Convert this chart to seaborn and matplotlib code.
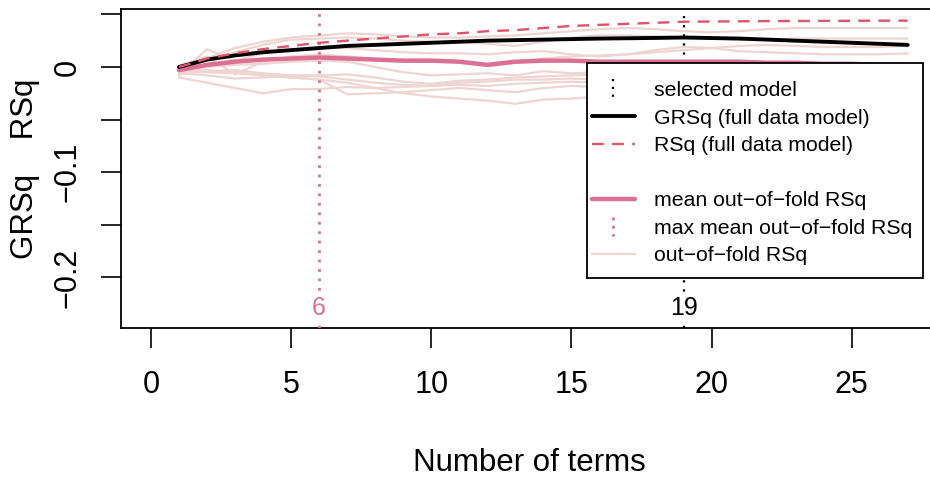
import numpy as np
import pandas as pd
import matplotlib
matplotlib.use("Agg")
import matplotlib.pyplot as plt
import seaborn as sns
from matplotlib.lines import Line2D
from matplotlib.patches import Rectangle
from matplotlib.legend_handler import HandlerBase

# ---------------- data ----------------
terms = list(range(1, 28))

grsq_full = [0.000, 0.007, 0.011, 0.014, 0.016, 0.018, 0.020, 0.021, 0.022, 0.023,
             0.024, 0.025, 0.0255, 0.026, 0.0265, 0.027, 0.0273, 0.0276, 0.028, 0.0275,
             0.027, 0.026, 0.025, 0.024, 0.023, 0.022, 0.021]
rsq_full = [0.000, 0.008, 0.013, 0.017, 0.020, 0.023, 0.025, 0.027, 0.029, 0.031,
            0.032, 0.034, 0.035, 0.037, 0.039, 0.040, 0.041, 0.042, 0.043, 0.0432,
            0.0434, 0.0436, 0.0437, 0.0438, 0.0439, 0.044, 0.044]
mean_oof_rsq = [-0.003, 0.002, 0.005, 0.007, 0.008, 0.009, 0.008, 0.007, 0.006, 0.006,
                0.005, 0.002, 0.005, 0.006, 0.006, 0.005, 0.005, 0.005, 0.005, 0.005,
                0.005, 0.004, 0.004, 0.003, 0.003, 0.002, 0.002]

fold1 = [-0.004, 0.008, 0.018, 0.024, 0.028, 0.030, 0.032, 0.031, 0.029, 0.028, 0.028, 0.029, 0.030, 0.032,
         0.034, 0.036, 0.037, 0.036, 0.034, 0.033, 0.034, 0.036, 0.037, 0.037, 0.037, 0.037, 0.037]
fold2 = [-0.002, 0.006, 0.014, 0.021, 0.026, 0.027, 0.028, 0.027, 0.025, 0.024, 0.024, 0.022, 0.020, 0.024,
         0.028, 0.030, 0.030, 0.029, 0.028, 0.027, 0.026, 0.026, 0.027, 0.027, 0.027, 0.027, 0.027]
fold3 = [-0.008, 0.017, 0.006, 0.013, 0.016, 0.018, 0.018, 0.016, 0.014, 0.013, 0.013, 0.012, 0.014, 0.015,
         0.012, 0.010, 0.012, 0.016, 0.019, 0.018, 0.015, 0.014, 0.013, 0.012, 0.012, 0.012, 0.013]
fold4 = [0.001, 0.010, -0.007, 0.005, 0.010, 0.012, 0.010, 0.008, 0.006, 0.005, 0.005, 0.001, 0.004, 0.008,
         0.010, 0.011, 0.012, 0.014, 0.016, 0.018, 0.020, 0.021, 0.020, 0.019, 0.019, 0.019, 0.020]
fold5 = [-0.003, 0.000, 0.002, 0.003, 0.005, 0.006, 0.005, 0.000, -0.005, -0.008, -0.007, -0.006, -0.008, -0.004,
         -0.006, -0.005, -0.004, -0.005, -0.006, -0.006, -0.005, -0.005, -0.006, -0.006, -0.006, -0.006, -0.006]
fold6 = [-0.006, -0.008, -0.011, -0.010, -0.008, -0.008, -0.007, -0.010, -0.014, -0.016, -0.013, -0.012, -0.010, -0.009,
         -0.008, -0.007, -0.008, -0.009, -0.010, -0.010, -0.011, -0.011, -0.012, -0.012, -0.012, -0.012, -0.012]
fold7 = [-0.010, -0.015, -0.020, -0.025, -0.021, -0.021, -0.019, -0.020, -0.019, -0.018, -0.017, -0.018, -0.016, -0.015,
         -0.014, -0.015, -0.016, -0.016, -0.017, -0.017, -0.018, -0.018, -0.018, -0.018, -0.018, -0.018, -0.018]
fold8 = [-0.004, -0.005, -0.006, -0.008, -0.010, -0.012, -0.026, -0.025, -0.024, -0.022, -0.020, -0.022, -0.024, -0.020,
         -0.018, -0.019, -0.020, -0.021, -0.021, -0.022, -0.022, -0.022, -0.023, -0.023, -0.023, -0.023, -0.023]
fold9 = [-0.002, -0.003, -0.005, -0.008, -0.010, -0.012, -0.015, -0.020, -0.025, -0.028, -0.030, -0.032, -0.035, -0.031,
         -0.030, -0.028, -0.029, -0.030, -0.030, -0.031, -0.031, -0.031, -0.032, -0.032, -0.032, -0.032, -0.032]
fold10 = [-0.007, -0.004, -0.003, -0.006, -0.008, -0.009, -0.012, -0.015, -0.017, -0.018, -0.015, -0.014, -0.012, -0.012,
          -0.011, -0.012, -0.013, -0.013, -0.014, -0.014, -0.014, -0.015, -0.015, -0.015, -0.015, -0.015, -0.015]
folds = [fold1, fold2, fold3, fold4, fold5, fold6, fold7, fold8, fold9, fold10]

selected_terms = 19
max_mean_oof_terms = 6

x_ticks = [0, 5, 10, 15, 20, 25]
x_ticklabels = ["0", "5", "10", "15", "20", "25"]
y_ticks = [0.05, 0.0, -0.05, -0.10, -0.15, -0.20]
y_ticklabels = ["", "0", "", "\u22120.1", "", "\u22120.2"]

legend_labels = ["selected model", "GRSq (full data model)", "RSq (full data model)", " ",
                 "mean out\u2212of\u2212fold RSq", "max mean out\u2212of\u2212fold RSq", "out\u2212of\u2212fold RSq"]

# ---------------- styling ----------------
C_BLACK = "black"
C_RSQ = "#DF536B"
C_MEAN = "#DB7093"   # palevioletred
C_FOLD = "#EED5D2"   # mistyrose2

sns.set_theme(style="white")
plt.rcParams["font.family"] = ["Liberation Sans", "DejaVu Sans"]

fig = plt.figure(figsize=(9.3, 4.79), dpi=100)
ax = fig.add_axes([120.7 / 930, 1 - 328 / 479, (938 - 120.7) / 930, (328 - 9) / 479])

fold_df = pd.DataFrame({
    "terms": np.tile(terms, len(folds)),
    "rsq": np.concatenate(folds),
    "fold": np.repeat(np.arange(len(folds)), len(terms)),
})
sns.lineplot(data=fold_df, x="terms", y="rsq", units="fold", estimator=None,
             color=C_FOLD, lw=1.6, ax=ax, legend=False)

ax.axvline(max_mean_oof_terms, color=C_MEAN, lw=2.0, ls=(0, (1, 2.4)), zorder=3)
ax.axvline(selected_terms, color=C_BLACK, lw=1.6, ls=(0, (1, 3.1)), zorder=3)

sns.lineplot(x=terms, y=mean_oof_rsq, color=C_MEAN, lw=3.2, ax=ax, zorder=4)
sns.lineplot(x=terms, y=grsq_full, color=C_BLACK, lw=2.8, ax=ax, zorder=5)
sns.lineplot(x=terms, y=rsq_full, color=C_RSQ, lw=1.7, ax=ax, zorder=5,
             dashes=False).lines[-1].set_dashes((5, 3.5))

ax.text(max_mean_oof_terms, -0.229, str(max_mean_oof_terms), color=C_MEAN, fontsize=18,
        ha="center", va="center", zorder=6,
        bbox=dict(fc="white", ec="none", pad=1.0))
ax.text(selected_terms, -0.229, str(selected_terms), color=C_BLACK, fontsize=18,
        ha="center", va="center", zorder=6,
        bbox=dict(fc="white", ec="none", pad=1.0))

ax.set_xlim(-1.08, 28.08)
ax.set_ylim(-0.2481, 0.0551)
ax.set_xticks(x_ticks)
ax.set_xticklabels(x_ticklabels)
ax.set_yticks(y_ticks)
ax.set_yticklabels(y_ticklabels)
ax.tick_params(axis="both", direction="out", length=14.4, width=1.2, color="black",
               labelsize=22, labelcolor="black", bottom=True, left=True)
ax.tick_params(axis="x", pad=16)
ax.tick_params(axis="y", pad=13, labelrotation=90)
for lbl in ax.get_yticklabels():
    lbl.set_va("center")

for sp in ax.spines.values():
    sp.set_visible(True)
    sp.set_color("black")
    sp.set_linewidth(1.3)

ax.set_xlabel("Number of terms", fontsize=22.5, color="black")
ax.xaxis.label.set_va("center")
ax.xaxis.set_label_coords(0.5, (328 - 463) / 319)
ax.set_ylabel("GRSq    RSq", fontsize=22.5, color="black")
ax.yaxis.label.set_va("center")
ax.yaxis.set_label_coords((25 - 120.7) / 817.3, 0.5)


# ---------------- legend ----------------
class VLine(Line2D):
    pass


class VDotHandler(HandlerBase):
    def create_artists(self, legend, orig_handle, xdescent, ydescent, width, height,
                       fontsize, trans):
        cx = width / 2 - xdescent
        cy = height / 2 - ydescent
        lw = orig_handle.get_linewidth()
        ln = Line2D([cx, cx], [cy + 6.8, cy - 6.8], color=orig_handle.get_color(),
                    lw=lw, ls=(0, (1, 4.0 / lw)))
        ln.set_transform(trans)
        return [ln]


handles = [
    VLine([], [], color=C_BLACK, lw=1.6),
    Line2D([], [], color=C_BLACK, lw=2.8),
    Line2D([], [], color=C_RSQ, lw=1.7, dashes=(5, 3.5)),
    Line2D([], [], color="none", lw=0),
    Line2D([], [], color=C_MEAN, lw=3.2),
    VLine([], [], color=C_MEAN, lw=2.0),
    Line2D([], [], color=C_FOLD, lw=1.6),
]

frame = Rectangle((0.5705, 0.1567), 0.9816 - 0.5705, 0.8307 - 0.1567, transform=ax.transAxes,
                  fc="white", ec="black", lw=1.3, zorder=7)
ax.add_patch(frame)

leg = ax.legend(handles, legend_labels, handler_map={VLine: VDotHandler()},
                loc="upper left", bbox_to_anchor=((592 - 120.7) / 817.3, (328 - 81) / 319),
                borderaxespad=0, borderpad=0, frameon=False, fontsize=15.3,
                handlelength=2.0, handletextpad=0.9, labelspacing=0.4)
leg.set_zorder(8)
for t in leg.get_texts():
    t.set_color("black")

fig.savefig("out.png", dpi=100)
